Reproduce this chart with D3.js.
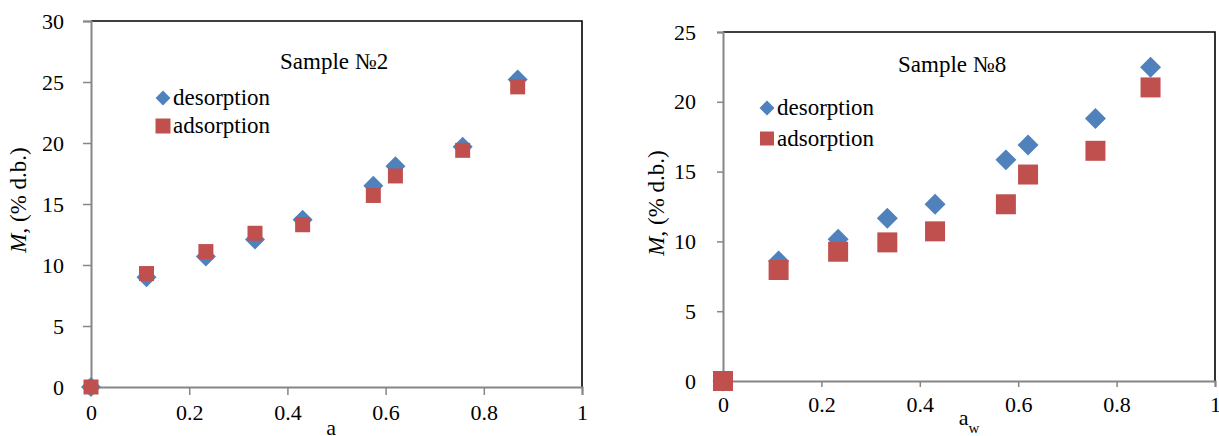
<!DOCTYPE html>
<html>
<head>
<meta charset="utf-8">
<script src="https://cdn.jsdelivr.net/npm/d3@7"></script>
<style>
    body { margin: 0; background: #fff; }
    svg text { font-family: "Liberation Serif", Tinos, "Times New Roman", "DejaVu Serif", serif; }
</style>
</head>
<body>
<svg id="chart" width="1219" height="436"></svg>
<script>
// Water activity of the salt solutions (shared by both samples)
const awValues = [0, 0.113, 0.234, 0.334, 0.431, 0.575, 0.62, 0.757, 0.869];

// Sample No2, moisture content (% d.b.)
const sample2Desorption = [0, 9.0, 10.7, 12.1, 13.7, 16.5, 18.1, 19.7, 25.2];
const sample2Adsorption = [0, 9.3, 11.1, 12.6, 13.3, 15.7, 17.3, 19.4, 24.6];

// Sample No8, moisture content (% d.b.)
const sample8Desorption = [0, 8.6, 10.15, 11.66, 12.66, 15.84, 16.9, 18.8, 22.47];
const sample8Adsorption = [0, 7.95, 9.26, 9.93, 10.72, 12.66, 14.79, 16.49, 21.03];

const xTicks = [0, 0.2, 0.4, 0.6, 0.8, 1];
const yTicks2 = [0, 5, 10, 15, 20, 25, 30];
const yTicks8 = [0, 5, 10, 15, 20, 25];

const seriesNames = ["desorption", "adsorption"];
const BLUE = "#4f81bd";
const RED = "#c0504d";
const AXIS_GREY = "#868686";
const FONT = '"Liberation Serif", Tinos, "Times New Roman", "DejaVu Serif", serif';

const CHART_2 = {
    title: "Sample №2",
    desorption: sample2Desorption,
    adsorption: sample2Adsorption,
    yTicks: yTicks2,
    yMax: 30,
    left: 91, right: 582, top: 21, bottom: 387,
    tickLen: 8,
    diamondArea: 200, squareArea: 225,
    titlePos: [280, 69],
    legendPos: [163, 98], legendStep: 28, legendMarker: [110, 225],
    yLabelPos: [26, 200],
    xLabelY: 435,
};

const CHART_8 = {
    title: "Sample №8",
    desorption: sample8Desorption,
    adsorption: sample8Adsorption,
    yTicks: yTicks8,
    yMax: 25,
    left: 723, right: 1215, top: 32, bottom: 381,
    tickLen: 6,
    diamondArea: 220, squareArea: 400,
    titlePos: [898, 72],
    legendPos: [767, 108], legendStep: 30.5, legendMarker: [112, 196],
    yLabelPos: [664, 203],
    xLabelY: 425,
};

function drawChart(svg, chart) {
    const x = d3.scaleLinear().domain([0, 1]).range([chart.left, chart.right]);
    const y = d3.scaleLinear().domain([0, chart.yMax]).range([chart.bottom, chart.top]);
    const g = svg.append("g");

    // Plot frame: black top and right edges
    g.append("path")
        .attr("d", `M${chart.left},${chart.top}H${chart.right}V${chart.bottom}`)
        .attr("fill", "none")
        .attr("stroke", "#000")
        .attr("stroke-width", 1.6);

    // Axes
    const xAxis = g.append("g")
        .attr("transform", `translate(0,${chart.bottom})`)
        .call(d3.axisBottom(x).tickValues(xTicks).tickSizeOuter(0)
            .tickSize(chart.tickLen).tickPadding(9).tickFormat(d3.format("")));
    const yAxis = g.append("g")
        .attr("transform", `translate(${chart.left},0)`)
        .call(d3.axisLeft(y).tickValues(chart.yTicks).tickSizeOuter(0)
            .tickSize(chart.tickLen).tickPadding(21 - chart.tickLen + 6));
    [xAxis, yAxis].forEach(ax => {
        ax.attr("font-family", FONT).attr("font-size", 22);
        ax.select(".domain").attr("stroke", AXIS_GREY).attr("stroke-width", 2);
        ax.selectAll(".tick line").attr("stroke", AXIS_GREY).attr("stroke-width", 1.5);
        ax.selectAll(".tick text").attr("fill", "#000");
    });
    xAxis.selectAll(".tick text").attr("dy", "0.72em");

    // Points: desorption diamonds below, adsorption squares on top
    const diamond = d3.symbol(d3.symbolSquare, chart.diamondArea);
    const square = d3.symbol(d3.symbolSquare, chart.squareArea);
    g.append("g").selectAll("path")
        .data(chart.desorption)
        .join("path")
        .attr("d", diamond)
        .attr("transform", (d, i) => `translate(${x(awValues[i])},${y(d)}) rotate(45)`)
        .attr("fill", BLUE);
    g.append("g").selectAll("path")
        .data(chart.adsorption)
        .join("path")
        .attr("d", square)
        .attr("transform", (d, i) => `translate(${x(awValues[i])},${y(d)})`)
        .attr("fill", RED);

    // Title inside the plot
    g.append("text")
        .attr("x", chart.titlePos[0])
        .attr("y", chart.titlePos[1])
        .attr("font-size", 23)
        .text(chart.title);

    // Legend
    const legend = g.append("g")
        .attr("transform", `translate(${chart.legendPos[0]},${chart.legendPos[1]})`);
    seriesNames.forEach((name, i) => {
        const row = legend.append("g").attr("transform", `translate(0,${i * chart.legendStep})`);
        row.append("path")
            .attr("d", d3.symbol(d3.symbolSquare, chart.legendMarker[i])())
            .attr("transform", i === 0 ? "rotate(45)" : null)
            .attr("fill", i === 0 ? BLUE : RED);
        row.append("text")
            .attr("x", 10)
            .attr("y", 7)
            .attr("font-size", 23)
            .text(name);
    });

    // Axis titles
    const yLabel = g.append("text")
        .attr("transform", `translate(${chart.yLabelPos[0]},${chart.yLabelPos[1]}) rotate(-90)`)
        .attr("text-anchor", "middle")
        .attr("font-size", 23);
    yLabel.append("tspan").attr("font-style", "italic").text("M");
    yLabel.append("tspan").text(", (% d.b.)");

    const xLabel = g.append("text")
        .attr("x", (chart.left + chart.right) / 2)
        .attr("y", chart.xLabelY)
        .attr("text-anchor", "middle")
        .attr("font-size", 22);
    xLabel.append("tspan").text("a");
    xLabel.append("tspan").attr("dy", 8).attr("font-size", 15).text("w");
}

const svg = d3.select("#chart");
drawChart(svg, CHART_2);
drawChart(svg, CHART_8);
</script>
</body>
</html>
